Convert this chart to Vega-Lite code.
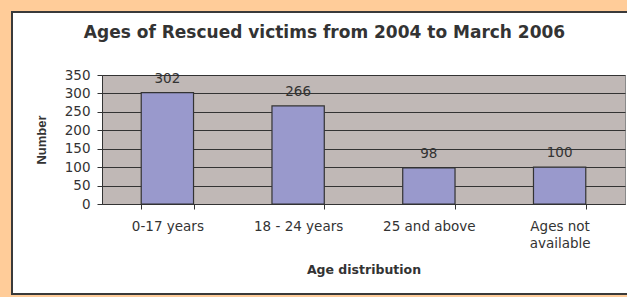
{
  "$schema": "https://vega.github.io/schema/vega-lite/v6.json",
  "background": "white",
  "padding": 0,
  "spacing": 0,
  "config": {
    "view": {"stroke": null},
    "concat": {"spacing": 0}
  },
  "vconcat": [
    {"width": 627, "height": 11, "view": {"fill": "#FFCC99", "stroke": null}, "data": {"values": []}, "mark": "rect", "encoding": {}},
    {"spacing": 0, "hconcat": [
      {"width": 11, "height": 2, "view": {"fill": "#FFCC99", "stroke": null}, "data": {"values": []}, "mark": "rect", "encoding": {}},
      {"width": 616, "height": 2, "view": {"fill": "#3A3A3A", "stroke": null}, "data": {"values": []}, "mark": "rect", "encoding": {}}
    ]},
    {"spacing": 21, "hconcat": [
      {"spacing": 0, "hconcat": [
        {"width": 11, "height": 280, "view": {"fill": "#FFCC99", "stroke": null}, "data": {"values": []}, "mark": "rect", "encoding": {}},
        {"width": 2, "height": 280, "view": {"fill": "#3A3A3A", "stroke": null}, "data": {"values": []}, "mark": "rect", "encoding": {}}
      ]},
      {"spacing": 0, "vconcat": [
        {"width": 1, "height": 10, "view": {"fill": null, "stroke": null}, "data": {"values": []}, "mark": "rect", "encoding": {}},
        {
          "width": 523,
          "height": 129,
          "title": {
            "text": "Ages of Rescued victims from 2004 to March 2006",
            "font": "DejaVu Sans",
            "fontSize": 17,
            "fontWeight": "bold",
            "color": "#333333",
            "frame": "group",
            "anchor": "middle",
            "dx": -39,
            "offset": 26
          },
          "view": {"fill": "#C0B8B6", "stroke": "#8A8A8A", "strokeWidth": 1},
          "data": {"values": [
            {"age": "0-17 years", "number": 302},
            {"age": "18 - 24 years", "number": 266},
            {"age": "25 and above", "number": 98},
            {"age": "Ages not available", "number": 100}
          ]},
          "encoding": {
            "x": {
              "field": "age", "type": "nominal", "sort": null,
              "scale": {"paddingInner": 0.6, "paddingOuter": 0.3},
              "axis": {
                "title": "Age distribution",
                "titleFont": "DejaVu Sans", "titleFontSize": 12.5, "titleFontWeight": "bold", "titleColor": "#333333",
                "titlePadding": 14,
                "labelAngle": 0, "labelFont": "DejaVu Sans", "labelFontSize": 13.5, "labelColor": "#333333",
                "labelPadding": 10, "labelLineHeight": 17,
                "labelExpr": "datum.label == 'Ages not available' ? ['Ages not', 'available'] : datum.label",
                "tickBand": "extent", "tickSize": 5, "tickColor": "#333333",
                "domainColor": "#333333", "grid": false
              }
            },
            "y": {
              "field": "number", "type": "quantitative",
              "scale": {"domain": [0, 350], "nice": false},
              "axis": {
                "title": "Number",
                "titleFont": "Liberation Sans", "titleFontSize": 13, "titleFontWeight": "bold", "titleColor": "#333333",
                "titlePadding": 16,
                "values": [0, 50, 100, 150, 200, 250, 300, 350],
                "labelFont": "DejaVu Sans", "labelFontSize": 13.5, "labelColor": "#333333", "labelPadding": 7,
                "tickSize": 5, "tickColor": "#333333", "domainColor": "#333333",
                "grid": true, "gridColor": "#333333", "gridWidth": 1
              }
            }
          },
          "layer": [
            {"mark": {"type": "bar", "fill": "#9999CC", "stroke": "#333333", "strokeWidth": 1.2}},
            {"mark": {"type": "text", "baseline": "alphabetic", "dy": -10, "font": "DejaVu Sans", "fontSize": 13.5, "color": "#333333"},
             "encoding": {"text": {"field": "number", "type": "quantitative"}}}
          ]
        }
      ]}
    ]},
    {"spacing": 0, "hconcat": [
      {"width": 11, "height": 2, "view": {"fill": "#FFCC99", "stroke": null}, "data": {"values": []}, "mark": "rect", "encoding": {}},
      {"width": 616, "height": 2, "view": {"fill": "#3A3A3A", "stroke": null}, "data": {"values": []}, "mark": "rect", "encoding": {}}
    ]},
    {"width": 627, "height": 2, "view": {"fill": "#FFCC99", "stroke": null}, "data": {"values": []}, "mark": "rect", "encoding": {}}
  ]
}
